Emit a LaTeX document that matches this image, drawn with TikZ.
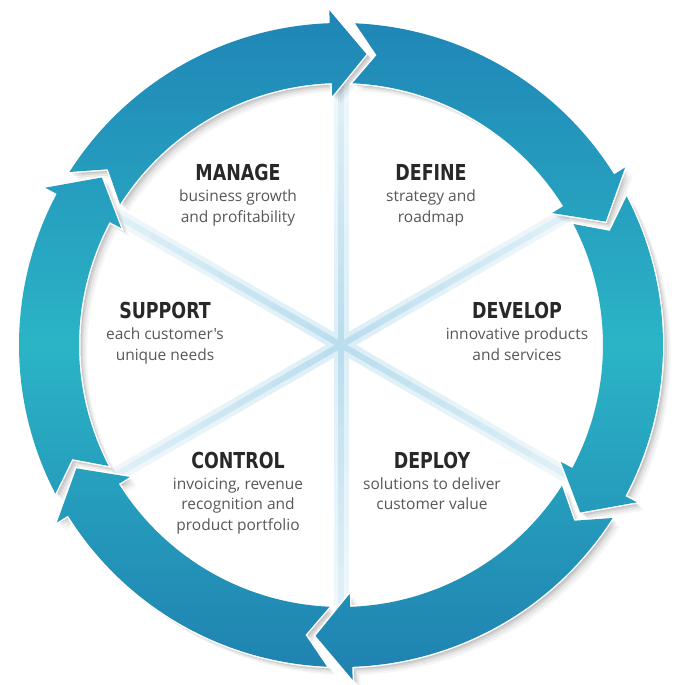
\documentclass[tikz,border=0pt]{standalone}
\usepackage{fontspec}
\setmainfont{Open Sans}
\newfontfamily\headfont[FakeStretch=0.88]{DejaVu Sans Condensed Bold}
\newfontfamily\descfont{Open Sans}
\definecolor{ringtop}{RGB}{31,132,182}
\definecolor{ringmid}{RGB}{43,180,198}
\definecolor{ringbot}{RGB}{31,128,176}
\definecolor{spokecol}{RGB}{178,218,236}
\definecolor{headcol}{RGB}{40,40,40}
\definecolor{desccol}{RGB}{88,88,88}
\def\Ro{322pt}
\def\Ri{262pt}
\def\Rm{292pt}
\newcommand\segp[1]{(#1:\Rm) -- ({#1+7}:{\Ro+13pt}) -- ({#1+7}:\Ro)
  arc[start angle={#1+7}, end angle={#1+62.5}, radius=\Ro]
  -- ({#1+58}:\Rm) -- ({#1+62.5}:\Ri)
  arc[start angle={#1+62.5}, end angle={#1+7}, radius=\Ri]
  -- ({#1+7}:{\Ri-13pt}) -- cycle}
\newcommand\allsegs{\segp{85} \segp{25} \segp{-35} \segp{-95} \segp{-155} \segp{145}}
\begin{document}
\begin{tikzpicture}[x=1pt,y=1pt,
  head/.style={font=\headfont\fontsize{22}{22}\selectfont, text=headcol, inner sep=0pt, anchor=base},
  desc/.style={font=\descfont\fontsize{15.5}{18}\selectfont, text=desccol, inner sep=0pt, anchor=base},
  spokewide/.style={line width=15pt, line cap=butt},
  spoke/.style={line width=6pt, line cap=butt}]
\useasboundingbox (-341,-340) rectangle (334,345);
\fill[white] (-341,-340) rectangle (334,345);

% light spokes in the centre: soft halo, then core
\foreach \a in {90,30,150,270,210,330}{
  \foreach \i in {0,...,12}{
    \pgfmathtruncatemacro\p{45-2*\i}
    \draw[spokewide, draw=spokecol!\p!white] (\a:{\i*20pt}) -- (\a:{(\i+1)*20pt+0.5pt});
  }
}
\foreach \a in {90,30,150,270,210,330}{
  \foreach \i in {0,...,12}{
    \pgfmathtruncatemacro\p{90-4*\i}
    \draw[spoke, draw=spokecol!\p!white] (\a:{\i*20pt}) -- (\a:{(\i+1)*20pt+0.5pt});
  }
}

% soft shadow of the ring
\foreach \d/\o in {8/0.04, 6/0.05, 4/0.07, 2.5/0.08, 1.2/0.09}{
  \fill[black, opacity=\o, shift={(\d,-\d)}] \allsegs;
}
% white rim
\draw[white, line width=3pt, line join=miter] \allsegs;
% ring segments
\begin{scope}
  \clip \allsegs;
  \shade[top color=ringtop, bottom color=ringbot, middle color=ringmid] (-340,-340) rectangle (340,340);
\end{scope}

% texts
\node[head] (mh) at (-103,164) {MANAGE};
\node[desc] (m1) at (-103,143) {business growth};
\node[desc] (m2) at (-103,122.5) {and profitability};

\node[head] (dh) at (90,164) {DEFINE};
\node[desc] (d1) at (90,143) {strategy and};
\node[desc] (d2) at (90,122.5) {roadmap};

\node[head] (sh) at (-176,26) {SUPPORT};
\node[desc] (s1) at (-176,5) {each customer's};
\node[desc] (s2) at (-176,-15.5) {unique needs};

\node[head] (vh) at (176,26) {DEVELOP};
\node[desc] (v1) at (176,5) {innovative products};
\node[desc] (v2) at (176,-15.5) {and services};

\node[head] (ch) at (-103,-123) {CONTROL};
\node[desc] (c1) at (-103,-144) {invoicing, revenue};
\node[desc] (c2) at (-103,-164.5) {recognition and};
\node[desc] (c3) at (-103,-185) {product portfolio};

\node[head] (ph) at (91,-123) {DEPLOY};
\node[desc] (p1) at (91,-144) {solutions to deliver};
\node[desc] (p2) at (91,-164.5) {customer value};
\end{tikzpicture}
\end{document}
